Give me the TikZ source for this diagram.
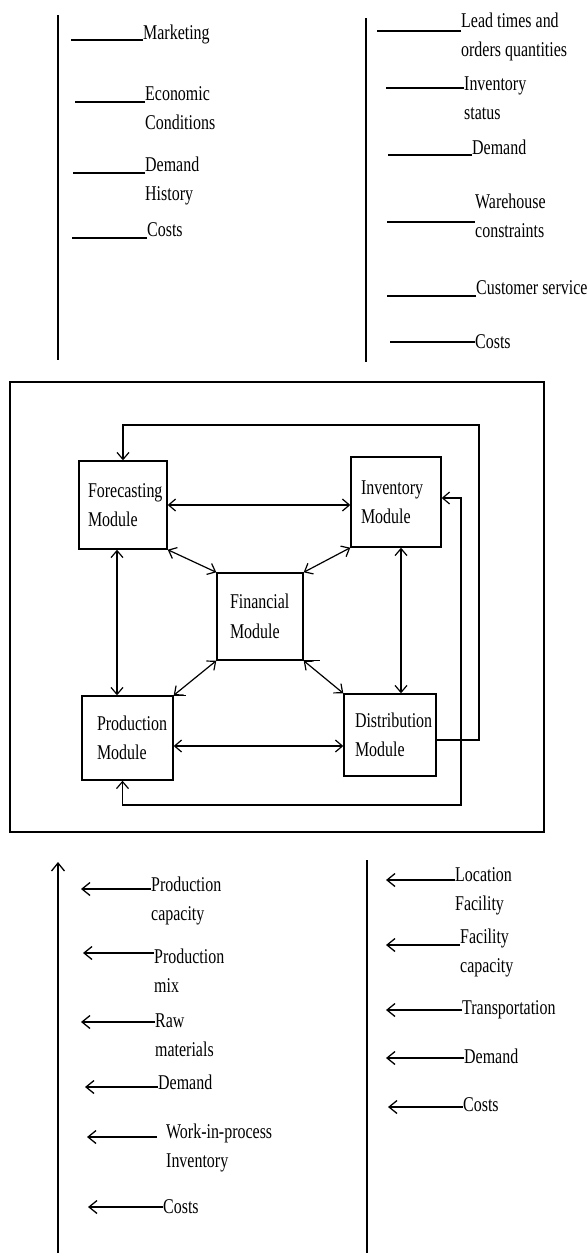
\documentclass[tikz,border=0pt]{standalone}
\usepackage{fontspec}
\setmainfont{Liberation Serif}[FakeStretch=0.76]
\usetikzlibrary{arrows.meta}

\begin{document}
\begin{tikzpicture}[x=1pt, y=-1pt,
        every node/.style={font=\fontsize{21}{29.5}\selectfont},
        >={Straight Barb[length=7pt,width=12pt]},
        lbl/.style={anchor=base west, align=left, inner sep=0pt},
        modbox/.style={draw, line width=1.4pt, align=left, inner ysep=0pt},
        link/.style={line width=1.2pt, <->},
        axis/.style={line width=1.3pt},
        feed/.style={line width=1.3pt, -{Straight Barb[length=8pt,width=13pt]}}]
    \useasboundingbox (0,0) rectangle (588,1254);

    % top left list
    \draw [axis] (58,15) -- (58,360);
    \node [lbl] (mkt) at (143,39) {Marketing};
    \node [lbl] (econ) at (145,129.5) {Economic\\Conditions};
    \node [lbl] (dhist) at (145,200.5) {Demand\\History};
    \node [lbl] (lcost) at (147,236) {Costs};
    \draw [axis] ([yshift=-1pt]mkt.base west) -- ++(-72,0);
    \draw [axis] ([yshift=27.5pt]econ.base west) -- ++(-70,0);
    \draw [axis] ([yshift=27.5pt]dhist.base west) -- ++(-72,0);
    \draw [axis] ([yshift=-2pt]lcost.base west) -- ++(-75,0);

    % top right list
    \draw [axis] (366,18) -- (366,362);
    \node [lbl] (lead) at (461,56.5) {Lead times and\\orders quantities};
    \node [lbl] (invst) at (464,119.5) {Inventory\\status};
    \node [lbl] (rdem) at (472,154) {Demand};
    \node [lbl] (ware) at (475,237.5) {Warehouse\\constraints};
    \node [lbl] (cserv) at (476,294) {Customer service};
    \node [lbl] (rcost) at (475,348) {Costs};
    \draw [axis] ([yshift=25.5pt]lead.base west) -- ++(-84,0);
    \draw [axis] ([yshift=31.5pt]invst.base west) -- ++(-78,0);
    \draw [axis] ([yshift=-1pt]rdem.base west) -- ++(-84,0);
    \draw [axis] ([yshift=15.5pt]ware.base west) -- ++(-88,0);
    \draw [axis] ([yshift=-2pt]cserv.base west) -- ++(-89,0);
    \draw [axis] ([yshift=6pt]rcost.base west) -- ++(-85,0);

    % frame and modules
    \draw [line width=1.4pt] (10,382) rectangle (544,832);
    \node [modbox, text width=70pt, inner xsep=9pt, minimum height=88pt] (fore) at (123,505) {Forecasting\\Module};
    \node [modbox, text width=70pt, inner xsep=10pt, minimum height=90pt] (inv) at (396,502) {Inventory\\Module};
    \node [modbox, text width=60pt, inner xsep=13pt, minimum height=87pt] (fin) at (260,616.5) {Financial\\Module};
    \node [modbox, text width=61pt, inner xsep=15pt, minimum height=84pt] (prod) at (127.5,738) {Production\\Module};
    \node [modbox, text width=70pt, inner xsep=11pt, minimum height=82pt] (dist) at (390,735) {Distribution\\Module};
    \draw [line width=1.4pt] (fin.south east) -- ++(16,0);
    \draw [line width=1.4pt] (prod.north east) -- ++(12,0);

    \draw [link] (fore.east) -- (fore.east -| inv.west);
    \draw [link] ([xshift=-6pt]fore.south) -- ([xshift=-6pt]fore.south |- prod.north);
    \draw [link] ([xshift=5pt]inv.south) -- ([xshift=5pt]inv.south |- dist.north);
    \draw [link] ([yshift=-8pt]prod.east) -- ([yshift=-8pt]prod.east -| dist.west);
    \draw [link] (fore.south east) -- (fin.north west);
    \draw [link] (inv.south west) -- (fin.north east);
    \draw [link] (fin.south west) -- (prod.north east);
    \draw [link] (fin.south east) -- (dist.north west);

    % feedback loops
    \coordinate (loopA) at (479,425);
    \coordinate (loopB) at (461,805);
    \draw [line width=1.2pt, ->] ([yshift=-5pt]dist.east) -| (loopA) -| (fore.north);
    \draw [link] ([yshift=4pt]inv.east) -| (loopB) -| ([xshift=-5pt]prod.south);

    % bottom left list
    \draw [feed] (58,1253) -- (58,862);
    \node [lbl] (pcap) at (151,920.5) {Production\\capacity};
    \node [lbl] (pmix) at (154,992.5) {Production\\mix};
    \node [lbl] (raw) at (155,1056.5) {Raw\\materials};
    \node [lbl] (bdem) at (158,1089) {Demand};
    \node [lbl] (wip) at (166,1167.5) {Work-in-process\\Inventory};
    \node [lbl] (bcost) at (163,1213) {Costs};
    \draw [feed] ([yshift=31.5pt]pcap.base west) -- ++(-70,0);
    \draw [feed] ([yshift=39.5pt]pmix.base west) -- ++(-71,0);
    \draw [feed] ([yshift=34.5pt]raw.base west) -- ++(-74,0);
    \draw [feed] ([yshift=2pt]bdem.base west) -- ++(-73,0);
    \draw [feed] ([xshift=-9pt,yshift=30.5pt]wip.base west) -- ++(-70,0);
    \draw [feed] ([yshift=6pt]bcost.base west) -- ++(-75,0);

    % bottom right list
    \draw [axis] (367,860) -- (367,1253);
    \node [lbl] (loc) at (455,910.5) {Location\\Facility};
    \node [lbl] (fcap) at (460,972.5) {Facility\\capacity};
    \node [lbl] (trans) at (462,1014) {Transportation};
    \node [lbl] (rdem2) at (464,1063) {Demand};
    \node [lbl] (rcost2) at (463,1111) {Costs};
    \draw [feed] ([yshift=30.5pt]loc.base west) -- ++(-69,0);
    \draw [feed] ([yshift=27.5pt]fcap.base west) -- ++(-74,0);
    \draw [feed] ([yshift=4pt]trans.base west) -- ++(-76,0);
    \draw [feed] ([yshift=5pt]rdem2.base west) -- ++(-78,0);
    \draw [feed] ([yshift=4pt]rcost2.base west) -- ++(-75,0);
\end{tikzpicture}
\end{document}
